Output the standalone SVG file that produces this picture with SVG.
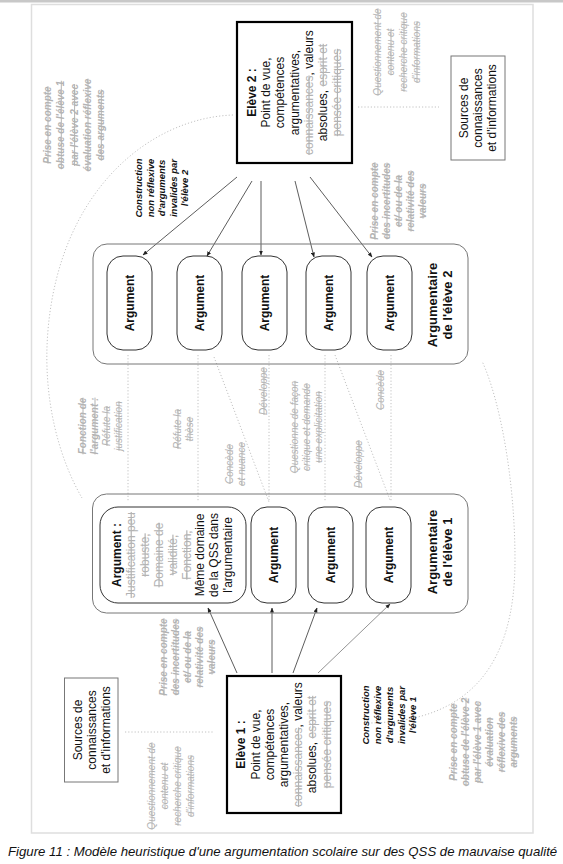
<svg xmlns="http://www.w3.org/2000/svg" width="563" height="864" viewBox="0 0 563 864">
<style>
text{font-family:"Liberation Sans",Arial,sans-serif;fill:#111}
.rt{text-anchor:middle;dominant-baseline:central}
.m{font-size:12px}
.b{font-weight:bold}
.ann{font-size:10px;font-style:italic}
.cons{font-size:9.5px;font-style:italic;font-weight:bold}
.g{fill:#b3b3b3;text-decoration:line-through}
.ti{font-size:13px;font-weight:bold}
.ev{fill:#fff;stroke:#000;stroke-width:2.2}
.src{fill:#fff;stroke:#777;stroke-width:1}
.cont{fill:none;stroke:#777;stroke-width:1}
.arg{fill:#fff;stroke:#333;stroke-width:1}
.dot{fill:none;stroke:#bbb;stroke-width:0.9;stroke-dasharray:1.2 2}
.arr{stroke:#333;stroke-width:0.8;marker-end:url(#ah)}
</style>
<defs>
<marker id="ah" viewBox="0 0 10 10" refX="9" refY="5" markerWidth="5" markerHeight="5" orient="auto" markerUnits="userSpaceOnUse">
<path d="M0,1 L10,5 L0,9 z" fill="#222"/>
</marker>
</defs>
<rect width="563" height="864" fill="#fff"/>
<rect x="0" y="0" width="563" height="2.5" fill="#c8c8c8"/>
<rect x="31.5" y="4.5" width="501.5" height="828.5" fill="#fff" stroke="#dedede" stroke-width="1.5"/>

<g id="connectors">
<path class="dot" d="M233,115 C150,118 60,190 48,330 C42,400 60,460 82,498"/>
<path class="dot" d="M368,723 C470,722 515,665 515,560 C515,480 500,400 482,361"/>
<line class="dot" x1="358" y1="107" x2="439" y2="107"/>
<line class="dot" x1="125" y1="732" x2="213" y2="732"/>
<line class="dot" x1="128" y1="355" x2="128" y2="502"/>
<line class="dot" x1="198" y1="355" x2="198" y2="502"/>
<line class="dot" x1="214" y1="357" x2="269" y2="502"/>
<line class="dot" x1="269" y1="355" x2="269" y2="502"/>
<line class="dot" x1="325" y1="355" x2="325" y2="502"/>
<line class="dot" x1="335" y1="355" x2="390" y2="500"/>
<line class="dot" x1="391" y1="355" x2="391" y2="502"/>
<line class="arr" x1="237" y1="177" x2="143" y2="255"/>
<line class="arr" x1="252" y1="181" x2="207" y2="256"/>
<line class="arr" x1="261" y1="181" x2="261" y2="255"/>
<line class="arr" x1="295" y1="181" x2="314" y2="257"/>
<line class="arr" x1="310" y1="177" x2="372" y2="257"/>
<line class="arr" x1="237" y1="673" x2="208" y2="608"/>
<line class="arr" x1="272" y1="673" x2="272" y2="608"/>
<line class="arr" x1="293" y1="673" x2="317" y2="608"/>
<line class="arr" x1="318" y1="673" x2="390" y2="604" style="stroke:#777"/>
</g>

<g id="eleve2">
<rect class="ev" x="237" y="22" width="115" height="141"/>
<text class="rt m" transform="rotate(-90)"><tspan x="-92.5" y="251.9" class="b">Elève 2 :</tspan><tspan x="-92.5" y="266.1">Point de vue,</tspan><tspan x="-92.5" y="280.3">compétences</tspan><tspan x="-92.5" y="294.5">argumentatives,</tspan><tspan x="-92.5" y="308.7"><tspan class="g">connaissances</tspan>, valeurs</tspan><tspan x="-92.5" y="322.9">absolues, <tspan class="g">esprit et</tspan></tspan><tspan x="-92.5" y="337.1" class="g">pensée critiques</tspan></text>
</g>

<g id="eleve1">
<rect class="ev" x="227" y="676" width="114" height="137"/>
<text class="rt m" transform="rotate(-90)"><tspan x="-744.5" y="241.4" class="b">Elève 1 :</tspan><tspan x="-744.5" y="255.6">Point de vue,</tspan><tspan x="-744.5" y="269.8">compétences</tspan><tspan x="-744.5" y="284">argumentatives,</tspan><tspan x="-744.5" y="298.2"><tspan class="g">connaissances</tspan>, valeurs</tspan><tspan x="-744.5" y="312.4">absolues, <tspan class="g">esprit et</tspan></tspan><tspan x="-744.5" y="326.6" class="g">pensée critiques</tspan></text>
</g>

<g id="sources2">
<rect class="src" x="451" y="56" width="54" height="104"/>
<text class="rt m" transform="rotate(-90)"><tspan x="-108" y="464">Sources de</tspan><tspan x="-108" y="478">connaissances</tspan><tspan x="-108" y="492">et d'informations</tspan></text>
</g>

<g id="sources1">
<rect class="src" x="64.5" y="678" width="53.5" height="104"/>
<text class="rt m" transform="rotate(-90)"><tspan x="-730" y="77.5">Sources de</tspan><tspan x="-730" y="91.5">connaissances</tspan><tspan x="-730" y="105.5">et d'informations</tspan></text>
</g>

<g id="argumentaire2">
<rect class="cont" x="93" y="244" width="375" height="120" rx="14"/>
<rect class="arg" x="107" y="256" width="45" height="94" rx="16"/>
<rect class="arg" x="177" y="256" width="45" height="94" rx="16"/>
<rect class="arg" x="242" y="256" width="45" height="94" rx="16"/>
<rect class="arg" x="306" y="256" width="45" height="94" rx="16"/>
<rect class="arg" x="367" y="256" width="45" height="94" rx="16"/>
<text class="rt m b" transform="rotate(-90)"><tspan x="-303" y="129.5">Argument</tspan><tspan x="-303" y="199.5">Argument</tspan><tspan x="-303" y="264.5">Argument</tspan><tspan x="-303" y="328.5">Argument</tspan><tspan x="-303" y="389.5">Argument</tspan></text>
<text class="rt ti" transform="rotate(-90)"><tspan x="-305" y="432">Argumentaire</tspan><tspan x="-305" y="447">de l'élève 2</tspan></text>
</g>

<g id="argumentaire1">
<rect class="cont" x="92.5" y="494" width="375.5" height="119" rx="14"/>
<rect class="arg" x="100" y="507" width="146" height="96" rx="18"/>
<rect class="arg" x="251" y="507" width="45" height="96" rx="16"/>
<rect class="arg" x="308" y="507" width="45" height="96" rx="16"/>
<rect class="arg" x="366" y="507" width="45" height="96" rx="16"/>
<text class="rt m" transform="rotate(-90)"><tspan x="-555" y="117" class="b">Argument :</tspan><tspan x="-555" y="130.9" class="g">Justification peu</tspan><tspan x="-555" y="144.8" class="g">robuste,</tspan><tspan x="-555" y="158.7" class="g">Domaine de</tspan><tspan x="-555" y="172.6" class="g">validité,</tspan><tspan x="-555" y="186.5" class="g">Fonction,</tspan><tspan x="-555" y="200.4">Même domaine</tspan><tspan x="-555" y="214.3">de la QSS dans</tspan><tspan x="-555" y="228.2">l'argumentaire</tspan></text>
<text class="rt m b" transform="rotate(-90)"><tspan x="-555" y="273.5">Argument</tspan><tspan x="-555" y="330.5">Argument</tspan><tspan x="-555" y="388.5">Argument</tspan></text>
<text class="rt ti" transform="rotate(-90)"><tspan x="-552" y="432">Argumentaire</tspan><tspan x="-552" y="447">de l'élève 1</tspan></text>
</g>

<g id="labels">
<text class="rt ann g b" transform="rotate(-90)"><tspan x="-125" y="47">Prise en compte</tspan><tspan x="-125" y="60.3">obtuse de l'élève 1</tspan><tspan x="-125" y="73.6">par l'élève 2 avec</tspan><tspan x="-125" y="87">évaluation réflexive</tspan><tspan x="-125" y="100.3">des arguments</tspan></text>
<text class="rt cons" transform="rotate(-90)"><tspan x="-188" y="138">Construction</tspan><tspan x="-188" y="149.5">non réflexive</tspan><tspan x="-188" y="161">d'arguments</tspan><tspan x="-188" y="172.5">invalides par</tspan><tspan x="-188" y="184">l'élève 2</tspan></text>
<text class="rt ann g" transform="rotate(-90)"><tspan x="-52" y="377">Questionnement de</tspan><tspan x="-52" y="390">contenu et</tspan><tspan x="-52" y="403">recherche critique</tspan><tspan x="-52" y="416">d'informations</tspan></text>
<text class="rt ann g b" transform="rotate(-90)"><tspan x="-201" y="374">Prise en compte</tspan><tspan x="-201" y="386">des incertitudes</tspan><tspan x="-201" y="398">et/ ou de la</tspan><tspan x="-201" y="410">relativité des</tspan><tspan x="-201" y="422">valeurs</tspan></text>
<text class="rt ann g" transform="rotate(-90)"><tspan x="-426" y="82" class="b">Fonction de</tspan><tspan x="-426" y="94" class="b">l'argument :</tspan><tspan x="-426" y="106">Réfute la</tspan><tspan x="-426" y="118">justification</tspan></text>
<text class="rt ann g" transform="rotate(-90)"><tspan x="-429" y="177">Réfute la</tspan><tspan x="-429" y="189">thèse</tspan></text>
<text class="rt ann g" transform="rotate(-90)"><tspan x="-464" y="229">Concède</tspan><tspan x="-464" y="241">et nuance</tspan></text>
<text class="rt ann g" transform="rotate(-90)"><tspan x="-391" y="263">Développe</tspan></text>
<text class="rt ann g" transform="rotate(-90)"><tspan x="-427" y="294">Questionne de façon</tspan><tspan x="-427" y="306">critique et demande</tspan><tspan x="-427" y="318">une explicitation</tspan></text>
<text class="rt ann g" transform="rotate(-90)"><tspan x="-464" y="358">Développe</tspan></text>
<text class="rt ann g" transform="rotate(-90)"><tspan x="-390" y="380">Concède</tspan></text>
<text class="rt ann g b" transform="rotate(-90)"><tspan x="-657" y="163">Prise en compte</tspan><tspan x="-657" y="175">des incertitudes</tspan><tspan x="-657" y="187">et/ ou de la</tspan><tspan x="-657" y="199">relativité des</tspan><tspan x="-657" y="211">valeurs</tspan></text>
<text class="rt ann g" transform="rotate(-90)"><tspan x="-786" y="151">Questionnement de</tspan><tspan x="-786" y="164">contenu et</tspan><tspan x="-786" y="177">recherche critique</tspan><tspan x="-786" y="190">d'informations</tspan></text>
<text class="rt cons" transform="rotate(-90)"><tspan x="-715" y="365">Construction</tspan><tspan x="-715" y="377">non réflexive</tspan><tspan x="-715" y="389">d'arguments</tspan><tspan x="-715" y="400.5">invalides par</tspan><tspan x="-715" y="412">l'élève 1</tspan></text>
<text class="rt ann g b" transform="rotate(-90)"><tspan x="-742" y="453">Prise en compte</tspan><tspan x="-742" y="465">obtuse de l'élève 2</tspan><tspan x="-742" y="477">par l'élève 1 avec</tspan><tspan x="-742" y="489">évaluation</tspan><tspan x="-742" y="501">réflexive des</tspan><tspan x="-742" y="513">arguments</tspan></text>
</g>

<text x="8" y="856" style="font-size:13.2px;font-style:italic">Figure 11 : Modèle heuristique d'une argumentation scolaire sur des QSS de mauvaise qualité</text>
</svg>
